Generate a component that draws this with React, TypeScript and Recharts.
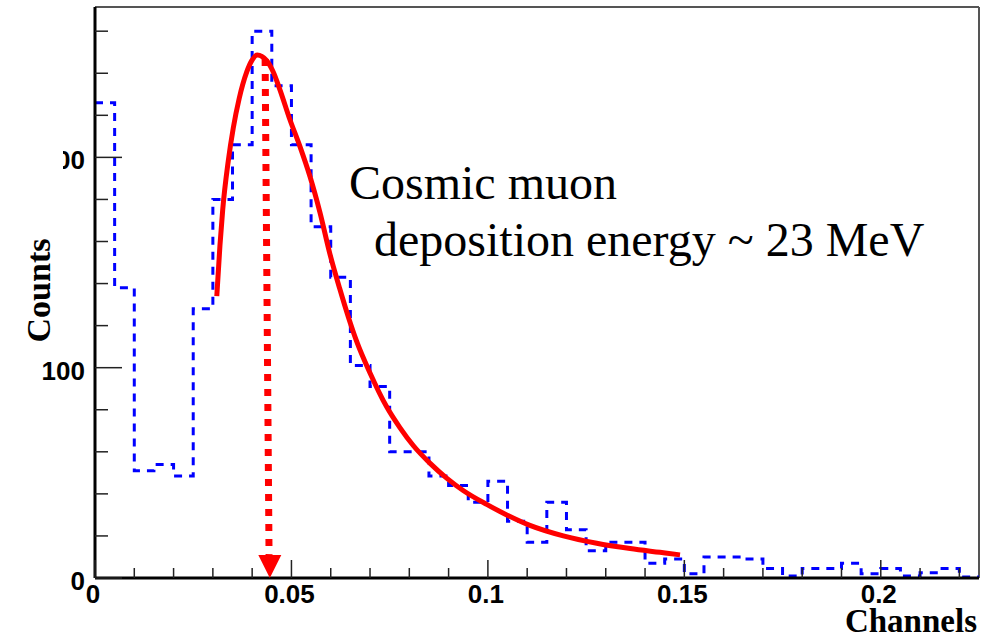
import React from 'react';
import {
  ComposedChart,
  Line,
  XAxis,
  YAxis,
  ReferenceLine,
  ReferenceDot,
  Label,
  Customized,
} from 'recharts';

// ---- Data ----
const X_MAX = 0.225;
const Y_MAX = 271.5;

const binLow = [
  0, 0.005, 0.01, 0.015, 0.02, 0.025, 0.03, 0.035, 0.04, 0.045,
  0.05, 0.055, 0.06, 0.065, 0.07, 0.075, 0.08, 0.085, 0.09, 0.095,
  0.1, 0.105, 0.11, 0.115, 0.12, 0.125, 0.13, 0.135, 0.14, 0.145,
  0.15, 0.155, 0.16, 0.165, 0.17, 0.175, 0.18, 0.185, 0.19, 0.195,
  0.2, 0.205, 0.21, 0.215, 0.22,
];
const binCounts = [
  226, 138, 51, 54, 48.5, 128, 180, 206, 260, 234,
  206, 167, 143, 101, 91, 60, 60, 48.5, 44, 36,
  46, 27, 17, 36, 23, 13, 17, 17, 7, 9,
  2, 10, 10, 9, 4.5, 1, 4.5, 4.5, 7, 2,
  4.5, 1, 2.5, 4.5, 0.5,
];

const fitX = [
  0.031, 0.0318, 0.0325, 0.0339, 0.0352, 0.0367, 0.0386, 0.0399, 0.0413,
  0.0437, 0.0454, 0.0471, 0.0496, 0.0522, 0.0547, 0.0573, 0.0598, 0.0623,
  0.0645, 0.0666, 0.07, 0.0742, 0.0776, 0.081, 0.0853, 0.0895, 0.0938,
  0.0997, 0.1048, 0.1107, 0.1192, 0.1277, 0.1362, 0.1438, 0.1489,
];
const fitY = [
  134, 158, 175, 198, 214, 228, 240.5, 246, 248.7,
  246, 240.5, 232, 218, 205, 191, 173.5, 154, 137.5,
  124, 112.5, 97.5, 81.5, 71.5, 63, 54.5, 47.5, 41.5,
  35, 30, 25, 20, 16.5, 14, 12.2, 11,
];

// arrow marking the peak
const arrowTop = { x: 0.0433, y: 246.8 };
const arrowBase = { x: 0.0443, y: 11 };
const arrowTip = { x: 0.0445, y: 0 };

const xTicks = [
  0, 0.01, 0.02, 0.03, 0.04, 0.05, 0.06, 0.07, 0.08, 0.09, 0.1,
  0.11, 0.12, 0.13, 0.14, 0.15, 0.16, 0.17, 0.18, 0.19, 0.2, 0.21, 0.22,
];
const xMajor = [0, 0.05, 0.1, 0.15, 0.2];
const xMajorLabels = ['0', '0.05', '0.1', '0.15', '0.2'];

const yTicks = [0, 20, 40, 60, 80, 100, 120, 140, 160, 180, 200, 220, 240, 260];
const yMajor = [0, 100, 200];
const yMajorLabels = ['0', '100', '200'];

const annotationLines = ['Cosmic muon', 'deposition energy ~ 23 MeV'];

const histData = binLow
  .map((x, i) => ({ x, y: binCounts[i] }))
  .concat([{ x: X_MAX, y: binCounts[binCounts.length - 1] }]);
const fitData = fitX.map((x, i) => ({ x, y: fitY[i] }));

const SANS = '"Liberation Sans", Arial, sans-serif';
const SERIF = '"Liberation Serif", "Times New Roman", Times, serif';

const XTick = (props: any) => {
  const { x, y, payload } = props;
  const v = payload.value;
  const idx = xMajor.findIndex((m) => Math.abs(m - v) < 1e-9);
  const major = idx >= 0;
  return (
    <g>
      <line x1={x} x2={x} y1={y} y2={y - (major ? 18 : 10)} stroke="#222" strokeWidth={1.5} />
      {major && (
        <text x={x - 2} y={y + 25} textAnchor="middle" style={{ fontFamily: SANS, fontWeight: 'bold', fontSize: 26 }} fill="#000">
          {xMajorLabels[idx]}
        </text>
      )}
    </g>
  );
};

const YTick = (props: any) => {
  const { x, y, payload } = props;
  const v = payload.value;
  const idx = yMajor.findIndex((m) => Math.abs(m - v) < 1e-9);
  const major = idx >= 0;
  let label: any = null;
  if (major) {
    if (v === 200) {
      label = (
        <svg x={63} y={y - 20} width={40} height={40} overflow="hidden">
          <text x={x - 10 - 63} y={32} textAnchor="end" style={{ fontFamily: SANS, fontWeight: 'bold', fontSize: 26 }} fill="#000">
            {yMajorLabels[idx]}
          </text>
        </svg>
      );
    } else {
      label = (
        <text x={x - 10} y={y + 12} textAnchor="end" style={{ fontFamily: SANS, fontWeight: 'bold', fontSize: 26 }} fill="#000">
          {yMajorLabels[idx]}
        </text>
      );
    }
  }
  return (
    <g>
      <line x1={x} x2={x + (major ? 27 : 13)} y1={y} y2={y} stroke="#222" strokeWidth={1.5} />
      {label}
    </g>
  );
};

const CountsLabel = (props: any) => {
  const vb = props.viewBox || { x: 0, y: 7, width: 95, height: 571 };
  const bx = vb.x + 50;
  const cy = vb.y + vb.height / 2 - 2;
  return (
    <text
      x={bx}
      y={cy}
      transform={`rotate(-90 ${bx} ${cy})`}
      textAnchor="middle"
      style={{ fontFamily: SERIF, fontWeight: 'bold', fontSize: 34 }}
      fill="#000"
    >
      Counts
    </text>
  );
};

const ChannelsLabel = (props: any) => {
  const vb = props.viewBox || { x: 95, y: 578, width: 884, height: 61 };
  return (
    <text
      x={vb.x + vb.width - 2}
      y={vb.y + 54}
      textAnchor="end"
      style={{ fontFamily: SERIF, fontWeight: 'bold', fontSize: 33 }}
      fill="#000"
    >
      Channels
    </text>
  );
};

const Annotation = () => (
  <g>
    <text x={349} y={199} fill="#000" fontFamily={SERIF} style={{ fontFamily: SERIF, fontSize: 48, fontWeight: 'normal' }}>
      {annotationLines[0]}
    </text>
    <text x={374} y={256} fill="#000" fontFamily={SERIF} style={{ fontFamily: SERIF, fontSize: 48, fontWeight: 'normal' }}>
      {annotationLines[1]}
    </text>
  </g>
);

const ArrowHead = (props: any) => {
  const { cx, cy } = props;
  if (cx == null || cy == null) return null;
  return <polygon points={`${cx - 11.5},${cy - 23} ${cx + 11.5},${cy - 23} ${cx},${cy}`} fill="#ff0000" />;
};

export default function App() {
  return (
    <div style={{ position: 'absolute', left: 0, top: 0, width: 989, height: 639, background: '#fff' }}>
      <ComposedChart width={989} height={639} margin={{ top: 7, right: 10, bottom: 0, left: 0 }}>
        <XAxis
          type="number"
          dataKey="x"
          domain={[0, X_MAX]}
          allowDataOverflow
          ticks={xTicks}
          interval={0}
          tick={<XTick />}
          tickSize={0}
          tickMargin={0}
          tickLine={false}
          axisLine={{ stroke: '#000', strokeWidth: 3 }}
          height={61}
        >
          <Label content={<ChannelsLabel />} />
        </XAxis>
        <YAxis
          type="number"
          dataKey="y"
          domain={[0, Y_MAX]}
          allowDataOverflow
          ticks={yTicks}
          interval={0}
          tick={<YTick />}
          tickSize={0}
          tickMargin={0}
          tickLine={false}
          axisLine={{ stroke: '#000', strokeWidth: 3 }}
          width={95}
        >
          <Label content={<CountsLabel />} />
        </YAxis>
        <ReferenceLine y={Y_MAX} stroke="#555" strokeWidth={2} ifOverflow="visible" />
        <ReferenceLine x={X_MAX} stroke="#555" strokeWidth={2} ifOverflow="visible" />
        <Line
          data={histData}
          dataKey="y"
          type="stepAfter"
          stroke="#0000ff"
          strokeWidth={3}
          strokeDasharray="8 7"
          dot={false}
          activeDot={false}
          isAnimationActive={false}
        />
        <Line
          data={fitData}
          dataKey="y"
          type="monotone"
          stroke="#ff0000"
          strokeWidth={5}
          dot={false}
          activeDot={false}
          isAnimationActive={false}
        />
        <ReferenceLine
          segment={[arrowTop, arrowBase]}
          stroke="#ff0000"
          strokeWidth={7}
          strokeDasharray="7 8"
          ifOverflow="visible"
        />
        <ReferenceDot x={arrowTip.x} y={arrowTip.y} r={0} shape={<ArrowHead />} ifOverflow="visible" />
        <Customized component={<Annotation />} />
      </ComposedChart>
    </div>
  );
}
